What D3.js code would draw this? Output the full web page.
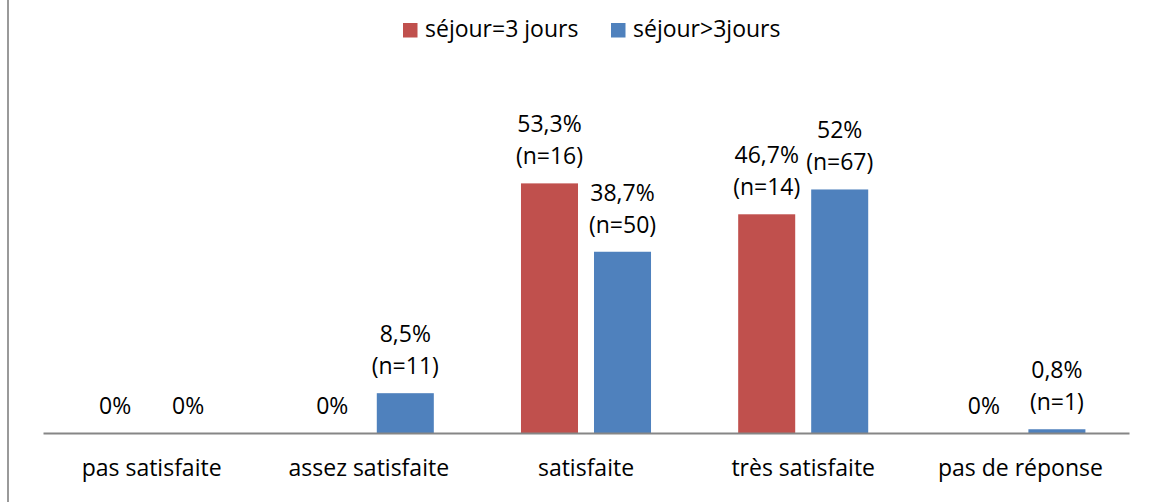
<!DOCTYPE html>
<html>
<head>
<meta charset="utf-8">
<script src="https://cdn.jsdelivr.net/npm/d3@7"></script>
<style>
  body { margin: 0; background: #fff; }
  text { font-family: "Open Sans", sans-serif; fill: #000; }
</style>
</head>
<body>
<div id="chart"></div>
<script>
const categories = ["pas satisfaite", "assez satisfaite", "satisfaite", "très satisfaite", "pas de réponse"];
const seriesNames = ["séjour=3 jours", "séjour>3jours"];
const seriesColors = ["#C0504D", "#4F81BD"];
const short = [0, 0, 53.3, 46.7, 0];
const long = [0, 8.5, 38.7, 52, 0.8];
const shortLabels = [["0%"], ["0%"], ["53,3%", "(n=16)"], ["46,7%", "(n=14)"], ["0%"]];
const longLabels = [["0%"], ["8,5%", "(n=11)"], ["38,7%", "(n=50)"], ["52%", "(n=67)"], ["0,8%", "(n=1)"]];

const W = 1152, H = 502;
const AXIS_Y = 433, PLOT_TOP = 152;
const FONT = 23;

const svg = d3.select("#chart").append("svg")
  .attr("width", W)
  .attr("height", H);

// frame line on the left
svg.append("line")
  .attr("x1", 8).attr("x2", 8)
  .attr("y1", 0).attr("y2", H)
  .attr("stroke", "#9a9a9a")
  .attr("stroke-width", 2);

const x0 = d3.scaleBand().domain(categories).range([43, 1129]);
const x1 = d3.scaleBand().domain([0, 1])
  .range([0, x0.bandwidth()])
  .paddingInner(0.219)
  .paddingOuter(0.597);
const y = d3.scaleLinear().domain([0, 60]).range([AXIS_Y, PLOT_TOP]);

const rows = [];
categories.forEach((c, i) => {
  rows.push({ cat: c, s: 0, v: short[i], lab: shortLabels[i] });
  rows.push({ cat: c, s: 1, v: long[i], lab: longLabels[i] });
});

// bars
svg.append("g").selectAll("rect")
  .data(rows.filter(d => d.v > 0))
  .enter().append("rect")
  .attr("x", d => x0(d.cat) + x1(d.s))
  .attr("y", d => y(d.v))
  .attr("width", x1.bandwidth())
  .attr("height", d => AXIS_Y - y(d.v))
  .attr("fill", d => seriesColors[d.s]);

// axis line + category labels
const xAxis = d3.axisBottom(x0).tickSize(0).tickPadding(0);
const axisG = svg.append("g")
  .attr("transform", `translate(0, ${AXIS_Y})`)
  .call(xAxis);
axisG.select(".domain")
  .attr("stroke", "#868686")
  .attr("stroke-width", 2);
axisG.selectAll(".tick text")
  .attr("font-size", FONT)
  .attr("font-family", "Open Sans, sans-serif")
  .attr("fill", "#000")
  .attr("dy", null)
  .attr("y", 43);

// data labels
const lab = svg.append("g").selectAll("text")
  .data(rows)
  .enter().append("text")
  .attr("text-anchor", "middle")
  .attr("font-size", FONT)
  .attr("x", d => x0(d.cat) + x1(d.s) + x1.bandwidth() / 2)
  .attr("y", d => y(d.v) - 19 - (d.lab.length - 1) * 32);
lab.selectAll("tspan")
  .data(d => d.lab.map((t, k) => ({ t, k, x: x0(d.cat) + x1(d.s) + x1.bandwidth() / 2 })))
  .enter().append("tspan")
  .attr("x", t => t.x)
  .attr("dy", t => t.k === 0 ? 0 : 32)
  .text(t => t.t);

// legend
const legendX = [403, 611];
const legend = svg.append("g").selectAll("g")
  .data(seriesNames)
  .enter().append("g")
  .attr("transform", (d, i) => `translate(${legendX[i]}, 23)`);
legend.append("rect")
  .attr("width", 14.5)
  .attr("height", 14.5)
  .attr("fill", (d, i) => seriesColors[i]);
legend.append("text")
  .attr("x", 22)
  .attr("y", 14)
  .attr("font-size", FONT)
  .text(d => d);
</script>
</body>
</html>
